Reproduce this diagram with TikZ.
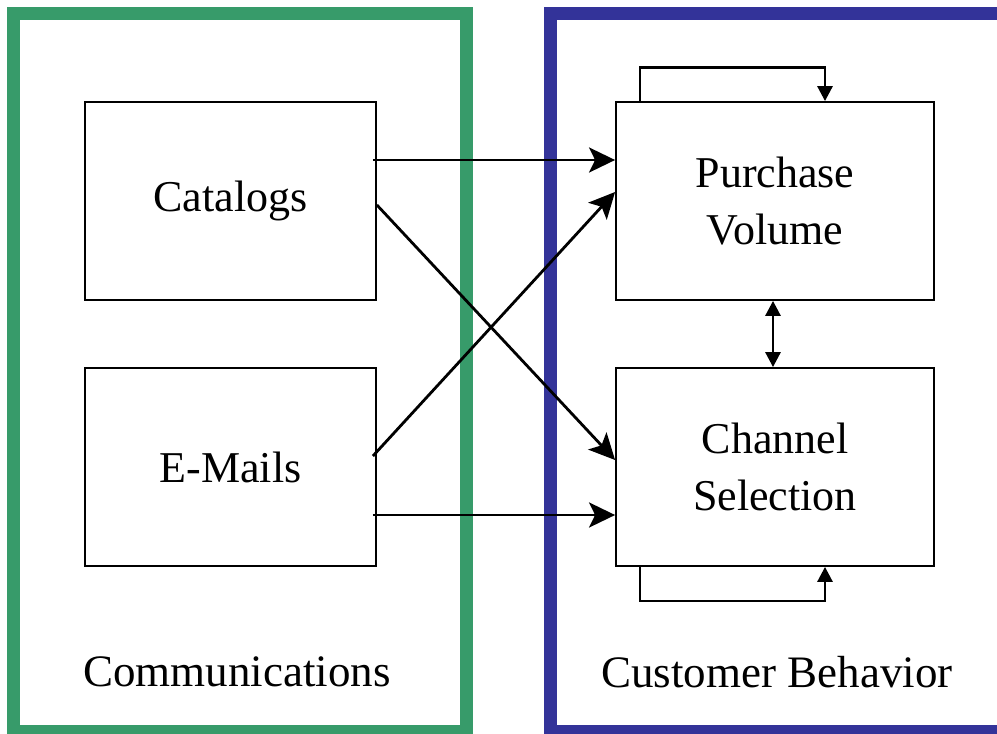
\documentclass[tikz,border=0pt]{standalone}
\usepackage{fontspec}
\setmainfont{Liberation Serif}
\usetikzlibrary{arrows.meta,calc}
\definecolor{commgreen}{RGB}{55,155,106}
\definecolor{behavblue}{RGB}{51,51,153}
\begin{document}
\begin{tikzpicture}[x=1pt,y=-1pt,
  box/.style={draw=black,line width=1.8pt,fill=white,minimum height=198pt,inner sep=0pt,
    font=\fontsize{44}{57}\selectfont,align=center},
  conn/.style={line width=2.8pt,-{Stealth[length=26pt,width=25pt,inset=6pt]}},
  loop/.style={line width=2.8pt,-{Triangle[length=15pt,width=15pt]}},
  twoway/.style={line width=2.8pt,{Triangle[length=15pt,width=15pt]}-{Triangle[length=15pt,width=15pt]}},
  frame/.style={line width=13pt},
  caption/.style={font=\fontsize{45}{50}\selectfont}]
\useasboundingbox (0,0) rectangle (997,734);
\begin{scope}
  \clip (0,0) rectangle (997,734);
  \draw[frame,draw=commgreen] (13.5,13.5) rectangle (466.5,731);
  \draw[frame,draw=behavblue] (550,13.5) rectangle (1040,731);
\end{scope}
% boxes
\node[box,minimum width=291pt] (cat) at (230.5,201) {\raisebox{-3pt}{Catalogs}};
\node[box,minimum width=291pt] (em) at (230.5,467) {\raisebox{-2pt}{E-Mails}};
\node[box,minimum width=318pt] (pv) at (775,201) {Purchase\\Volume};
\node[box,minimum width=318pt] (cs) at (775,467) {Channel\\Selection};
% captions
\node[caption] (commlbl) at (237,672) {Communications};
\node[caption] (behavlbl) at (777,672) {Customer Behavior};
% connectors
\draw[conn] ([yshift=41pt,xshift=-4pt]cat.east) -- ([yshift=41pt]pv.west);
\draw[conn] ([yshift=-4pt]cat.east) -- ([yshift=7pt]cs.west);
\draw[conn] ([yshift=11pt,xshift=-4pt]em.east) -- ([yshift=9pt]pv.west);
\draw[conn] ([yshift=-48pt,xshift=-4pt]em.east) -- ([yshift=-48pt]cs.west);
% feedback loops
\draw[loop] ([xshift=-135pt]pv.north) -- ++(0,-34) -| ([xshift=50pt]pv.north);
\draw[loop] ([xshift=-135pt]cs.south) -- ++(0,34) -| ([xshift=50pt]cs.south);
% mutual influence
\draw[twoway] ([xshift=-2pt]pv.south) -- ([xshift=-2pt]cs.north);
\end{tikzpicture}
\end{document}
